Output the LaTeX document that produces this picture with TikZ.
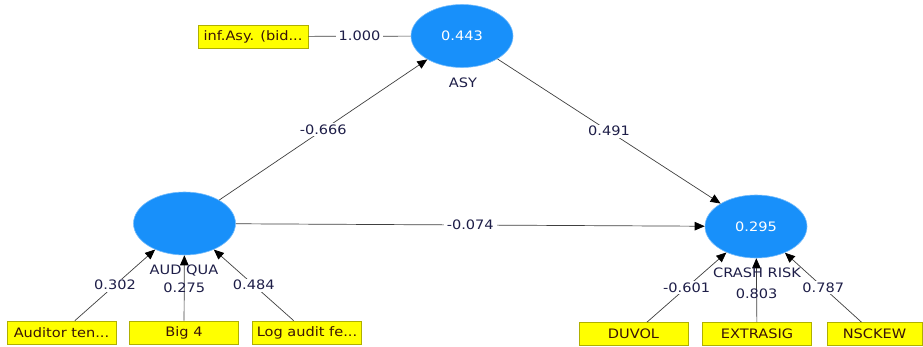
\documentclass[tikz,border=0pt]{standalone}
\usepackage{fontspec}
\usepackage{graphicx}
\setmainfont{DejaVu Sans}
\usetikzlibrary{shapes.geometric,arrows.meta}
\definecolor{lvblue}{HTML}{1890FA}
\definecolor{indyel}{HTML}{FFFF00}
\definecolor{indborder}{HTML}{B0B000}
\definecolor{indtext}{HTML}{3A1408}
\definecolor{labtext}{HTML}{1E1E48}
\newcommand{\wtx}[1]{\scalebox{1.12}[1]{#1}}
\tikzset{
  latent/.style={ellipse, fill=lvblue, draw=lvblue!60, line width=0.6pt, minimum width=102pt, minimum height=63pt, inner sep=0pt, text=white, font=\fontsize{13}{14}\selectfont},
  indic/.style={rectangle, fill=indyel, draw=indborder, line width=0.6pt, minimum width=109pt, minimum height=23pt, inner sep=0pt, text=indtext, font=\fontsize{13}{14}\selectfont},
  lvname/.style={text=labtext, font=\fontsize{13}{14}\selectfont, inner sep=0pt},
  coef/.style={fill=white, text=labtext, font=\fontsize{13}{14}\selectfont, inner xsep=3pt, inner ysep=1.5pt},
  path/.style={draw=black!75, line width=0.7pt, -{Triangle[length=10pt,width=8.5pt,color=black]}},
  plain/.style={draw=black!75, line width=0.7pt}
}
\begin{document}
\begin{tikzpicture}[x=1pt,y=-1pt]
\useasboundingbox (0,0) rectangle (923,347);
\clip (0,0) rectangle (923,347);
\fill[white] (0,0) rectangle (923,347);
% latent variables
\node[latent] (asy) at (462,36) {\wtx{0.443}};
\node[latent] (aud) at (184.5,223.5) {};
\node[latent] (crash) at (756,226.5) {\wtx{0.295}};
\node[lvname] (asylab) at (463,83) {\wtx{ASY}};
% indicators
\node[indic, minimum width=110pt] (inf) at (253,36.5) {\wtx{inf.Asy. (bid...}};
\node[indic] (b1) at (61.5,332.5) {\wtx{Auditor ten...}};
\node[indic] (b2) at (184,332.5) {\wtx{Big 4}};
\node[indic] (b3) at (307,332.5) {\wtx{Log audit fe...}};
\node[indic] (d1) at (633.5,334) {\wtx{DUVOL}};
\node[indic] (d2) at (757,334) {\wtx{EXTRASIG}};
\node[indic, minimum width=95pt] (d3) at (874.5,334) {\wtx{NSCKEW}};
% structural paths
\draw[path] (aud) -- node[coef, pos=0.5] {\wtx{-0.666}} (asy);
\draw[path] (asy) -- node[coef, pos=0.5] {\wtx{0.491}} (crash);
\draw[path] (aud) -- node[coef, pos=0.5] {\wtx{-0.074}} (crash);
% measurement
\draw[plain] (inf) -- node[coef, pos=0.5] {\wtx{1.000}} (asy);
\draw[path] (b1) -- node[coef, pos=0.5] {\wtx{0.302}} (aud);
\draw[path] (b2) -- node[coef, pos=0.5, fill=none] {\wtx{0.275}} (aud);
\draw[path] (b3) -- node[coef, pos=0.5] {\wtx{0.484}} (aud);
\draw[path] (d1) -- node[coef, pos=0.5] {\wtx{-0.601}} (crash);
\draw[path] (d2) -- node[coef, pos=0.45, fill=none] {\wtx{0.803}} (crash);
\draw[path] (d3) -- node[coef, pos=0.5] {\wtx{0.787}} (crash);
% latent names (drawn over connectors)
\node[lvname] (audlab) at (184,271) {\wtx{AUD QUA}};
\node[lvname] (crashlab) at (757,273) {\wtx{CRASH RISK}};
\end{tikzpicture}
\end{document}
